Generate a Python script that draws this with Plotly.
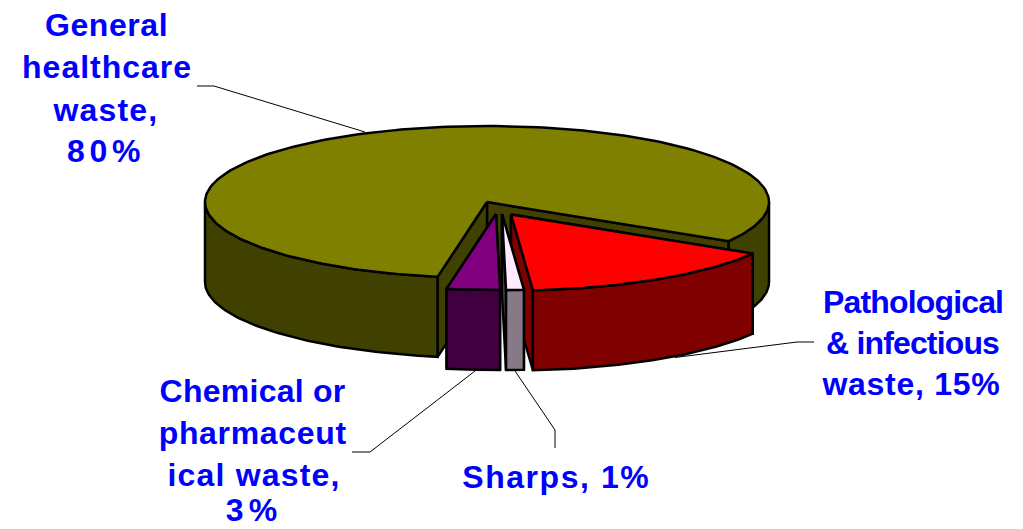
import json
import numpy as np
import plotly.graph_objects as go

# ---- data ----
categories = ["General healthcare waste", "Pathological & infectious waste", "Sharps", "Chemical or pharmaceutical waste"]
values = [80, 15, 1, 3]

# ---- styling / layout ----
top_colors = ["#808000", "#FF0000", "#FFEAFF", "#800080"]
side_colors = ["#404000", "#800000", "#857A85", "#400040"]
cut_colors = ["#404000", "#800000", "#555055", "#400040"]
centers = {"General healthcare waste": (487, 202),
           "Pathological & infectious waste": (511, 214.5),
           "Sharps": (502, 214),
           "Chemical or pharmaceutical waste": (496, 214)}
RX, RY, DEPTH = 282, 76, 80
START = 121  # degrees clockwise from 12 o'clock: Pathological begins here
OUT = 2.5
FONT = "Liberation Sans"
FS = 32
BLUE = "#0000FF"

# text, centre x, centre y, rendered width in the reference
label_lines = [
    ("General", 106.5, 25, 123), ("healthcare", 107, 67, 170), ("waste,", 105.5, 110, 105), ("80%", 106, 151, 78),
    ("Pathological", 913, 302, 180), ("& infectious", 912.5, 343, 173), ("waste, 15%", 911, 384, 178),
    ("Chemical or", 252, 391, 186), ("pharmaceut", 253, 433, 188), ("ical waste,", 253.5, 475, 173), ("3%", 253.5, 510, 57),
    ("Sharps, 1%", 556, 477, 188),
]
leaders = [
    [(197, 86), (214, 86), (365, 132)],
    [(814, 342), (797, 342), (675, 357.5)],
    [(352, 452), (370, 452), (475, 371)],
    [(555, 448), (555, 430), (515, 371)],
]

# slice sweep from the values, in drawing order around the pie
order = [1, 2, 3, 0]
total = sum(values)
sweeps = {}
a = START
for i in order:
    sweeps[i] = (a, a + 360 * values[i] / total)
    a = sweeps[i][1]


def pt(c, ang):
    r = np.radians(ang)
    return c[0] + RX * np.sin(r), c[1] - RY * np.cos(r)


fig = go.Figure()


def poly(xs, ys, color):
    fig.add_trace(go.Scatter(x=list(xs) + [xs[0]], y=list(ys) + [ys[0]], mode="lines", fill="toself",
                             fillcolor=color, line=dict(color="black", width=OUT),
                             hoverinfo="skip", showlegend=False))


def draw_slice(i):
    c = centers[categories[i]]
    a0, a1 = sweeps[i]
    p0, p1 = pt(c, a0), pt(c, a1)
    for p in sorted([p0, p1], key=lambda q: q[1]):
        poly([c[0], p[0], p[0], c[0]], [c[1], p[1], p[1] + DEPTH, c[1] + DEPTH], cut_colors[i])
    for lo, hi in [(90, 270), (450, 630)]:
        s, e = max(a0, lo), min(a1, hi)
        if s < e:
            t = np.linspace(s, e, 80)
            x, y = pt(c, t)
            poly(np.r_[x, x[::-1]], np.r_[y, y[::-1] + DEPTH], side_colors[i])
    t = np.linspace(a0, a1, 240)
    x, y = pt(c, t)
    poly(np.r_[c[0], x], np.r_[c[1], y], top_colors[i])


for ln in leaders:
    fig.add_trace(go.Scatter(x=[p[0] for p in ln], y=[p[1] for p in ln], mode="lines",
                             line=dict(color="black", width=1), hoverinfo="skip", showlegend=False))

for i in [0, 1, 2, 3]:
    draw_slice(i)

for txt, x, y, w in label_lines:
    fig.add_annotation(x=x, y=y, text=f"<b>{txt}</b>", showarrow=False, xanchor="center", yanchor="middle",
                       font=dict(family=FONT, size=FS, color=BLUE))

fig.update_layout(width=1023, height=529, margin=dict(l=0, r=0, t=0, b=0), autosize=False,
                  paper_bgcolor="white", plot_bgcolor="white", showlegend=False,
                  xaxis=dict(range=[0, 1023], visible=False, fixedrange=True),
                  yaxis=dict(range=[529, 0], visible=False, fixedrange=True))

widths = json.dumps({t: w for t, _, _, w in label_lines})
post = """
document.body.style.margin='0';
var W = %s;
document.querySelectorAll('text.annotation-text').forEach(function(t){
  var s = t.textContent, w = W[s];
  if (w) {
    var n = t.getComputedTextLength();
    t.style.letterSpacing = ((w - n) / s.length) + 'px';
  }
});
""" % widths
fig.write_html("out.html", post_script=post, config={"displayModeBar": False})
